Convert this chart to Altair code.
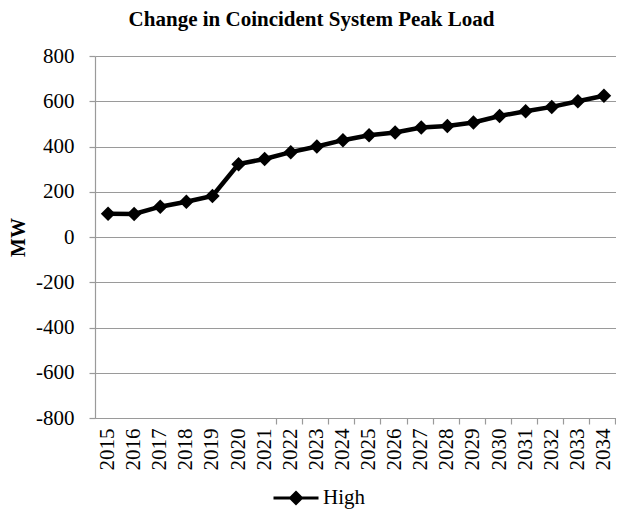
import altair as alt
import pandas as pd

years = [str(y) for y in range(2015, 2035)]
high_mw = [103, 102, 134, 156, 181, 322, 345, 375, 400, 428,
           450, 462, 484, 491, 506, 535, 556, 575, 600, 624]
series = ["High"] * len(years)
y_ticks = [-800, -600, -400, -200, 0, 200, 400, 600, 800]

df = pd.DataFrame({"year": years, "mw": high_mw, "series": series})

FONT = "Liberation Serif"
GRAY = "#9a9a9a"
W, H = 521, 362

xscale = alt.Scale(type="band", paddingInner=0, paddingOuter=0, range=[0, 522])

legend_path = "M-1,0L1,0M0,-0.24L0.24,0L0,0.24L-0.24,0Z"

line = alt.Chart(df).mark_line(
    strokeWidth=4.5,
    point=alt.OverlayMarkDef(shape="diamond", size=210, filled=True, opacity=1),
).encode(
    x=alt.X("year:O", scale=xscale, bandPosition=0.5, sort=years,
            axis=alt.Axis(title=None, orient="bottom", labelAngle=270, labelFont=FONT,
                          labelFontSize=21, labelColor="black", labelPadding=10, ticks=False,
                          domain=True, domainColor=GRAY, domainWidth=1.2, grid=False,
                          labelBaseline="middle", labelAlign="right")),
    y=alt.Y("mw:Q", scale=alt.Scale(domain=[-800, 800], nice=False, zero=False),
            axis=alt.Axis(title="MW", values=y_ticks, labelExpr="'' + datum.value",
                          labelFont=FONT, labelFontSize=21,
                          labelColor="black", labelPadding=15, tickSize=6, tickColor=GRAY,
                          tickWidth=1.2, domainColor=GRAY, domainWidth=1.2,
                          grid=True, gridColor=GRAY, gridWidth=1.2,
                          titleFont=FONT, titleFontSize=20, titleFontWeight="bold",
                          titleColor="black", titlePadding=7)),
    color=alt.Color("series:N", scale=alt.Scale(domain=["High"], range=["black"]),
                    legend=alt.Legend(title=None, orient="none", legendX=177, legendY=418,
                                      symbolType=legend_path, symbolSize=2025,
                                      symbolStrokeWidth=3, symbolFillColor="black",
                                      symbolStrokeColor="black", labelOffset=3,
                                      labelFont=FONT, labelFontSize=21, labelColor="black",
                                      padding=0)),
)

zero_ticks = alt.Chart(df).mark_point(opacity=0).encode(
    x=alt.X("year:O", scale=xscale, sort=years,
            axis=alt.Axis(title=None, orient="bottom", position=H / 2, labels=False,
                          ticks=True, tickBand="extent", tickSize=6, tickColor=GRAY,
                          tickWidth=1.2, domain=True, domainColor=GRAY, domainWidth=1.2,
                          grid=False)),
)

chart = alt.layer(line, zero_ticks).resolve_axis(x="independent").properties(
    width=W,
    height=H,
    autosize=alt.AutoSizeParams(type="none"),
    padding={"left": 87, "top": 48, "right": 0, "bottom": 92},
    title=alt.TitleParams("Change in Coincident System Peak Load", font=FONT, fontSize=21,
                          fontWeight="bold", color="black", anchor="middle", frame="group",
                          dx=-44, offset=-2, baseline="alphabetic"),
).configure_view(stroke=None)

chart.save("out.html", embed_options={"renderer": "svg", "actions": False})
